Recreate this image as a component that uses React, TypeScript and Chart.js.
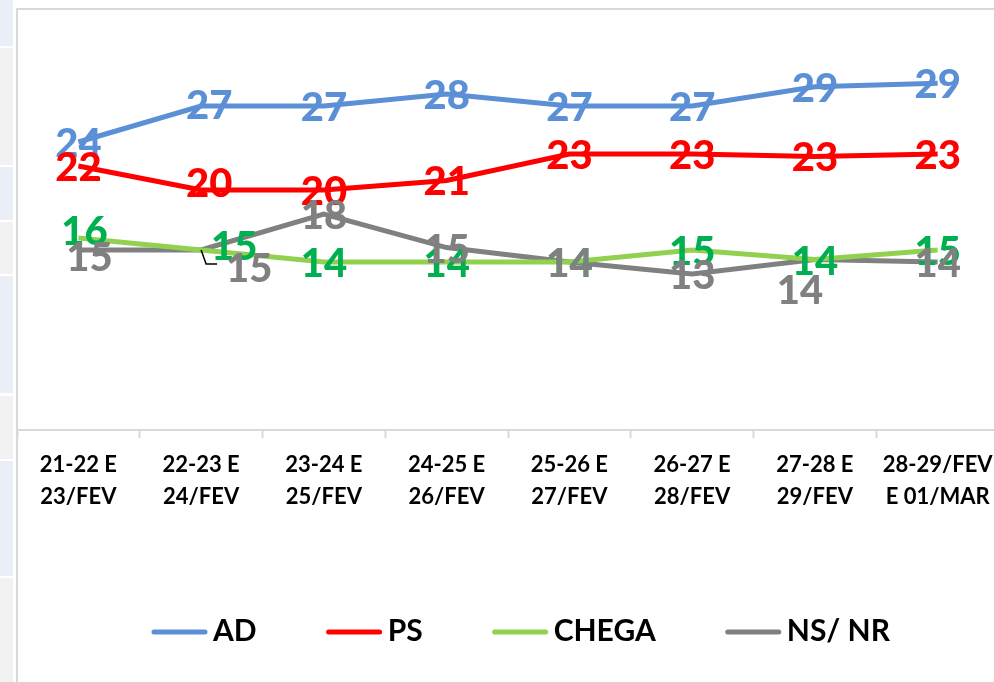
import React, { useEffect, useRef } from 'react';
import { Chart, registerables } from 'chart.js';

Chart.register(...registerables);

// ---- data ----
const categories: string[][] = [
  ['21-22 E', '23/FEV'],
  ['22-23 E', '24/FEV'],
  ['23-24 E', '25/FEV'],
  ['24-25 E', '26/FEV'],
  ['25-26 E', '27/FEV'],
  ['26-27 E', '28/FEV'],
  ['27-28 E', '29/FEV'],
  ['28-29/FEV', 'E 01/MAR'],
];
const seriesNames = ['AD', 'PS', 'CHEGA', 'NS/ NR'];
const adValues = [24, 27, 27, 28, 27, 27, 28.6, 28.9];
const psValues = [22, 20, 20, 20.8, 23, 23, 22.8, 23];
const chegaValues = [16, 15, 14, 14, 14, 15, 14.2, 15];
const nsValues = [15, 15, 18, 15.2, 14, 13, 14.2, 14];

// ---- styles ----
const lineColors = ['#5B8FD6', '#FF0000', '#92D050', '#808080'];
const labelColors = ['#5B8FD6', '#FF0000', '#00B050', '#808080'];
const FONT = 'Lato, "Open Sans", sans-serif';

// manual label displacement [dx, dy] per series / point (px)
const labelOffsets: Record<string, [number, number]> = {
  '0-1': [8, -2],
  '1-1': [8, -8],
  '2-0': [6, -8],
  '2-1': [33, -5],
  '3-0': [11, 6],
  '3-1': [48, 17],
  '3-6': [-15, 29],
};
// leader lines: relative polyline from point
const leaders: Record<string, [number, number][]> = {
  '3-1': [[0, 0], [5, 14], [16, 14]],
};

const valueLabelPlugin = {
  id: 'valueLabels',
  afterDatasetsDraw(chart: any) {
    const ctx = chart.ctx;
    ctx.save();
    chart.data.datasets.forEach((ds: any, di: number) => {
      const meta = chart.getDatasetMeta(di);
      meta.data.forEach((pt: any, i: number) => {
        const lead = leaders[`${di}-${i}`];
        if (lead) {
          ctx.beginPath();
          ctx.strokeStyle = '#000';
          ctx.lineWidth = 1.5;
          lead.forEach((p, k) => {
            if (k === 0) ctx.moveTo(pt.x + p[0], pt.y + p[1]);
            else ctx.lineTo(pt.x + p[0], pt.y + p[1]);
          });
          ctx.stroke();
        }
      });
    });
    chart.data.datasets.forEach((ds: any, di: number) => {
      const meta = chart.getDatasetMeta(di);
      ctx.fillStyle = labelColors[di];
      ctx.font = `900 40px ${FONT}`;
      ctx.textAlign = 'center';
      ctx.textBaseline = 'middle';
      meta.data.forEach((pt: any, i: number) => {
        const off = labelOffsets[`${di}-${i}`] || [0, 0];
        ctx.fillText(String(Math.round(ds.data[i])), pt.x + off[0], pt.y + off[1] + 2);
      });
    });
    ctx.restore();
  },
};

const legendPlugin = {
  id: 'customLegend',
  afterDraw(chart: any) {
    const ctx = chart.ctx;
    const area = chart.chartArea;
    ctx.save();
    ctx.font = `bold 30px ${FONT}`;
    const sample = 55;
    const gap = 6;
    const itemGap = 70;
    const items = chart.data.datasets.map((ds: any, i: number) => ({
      text: ds.label,
      color: lineColors[i],
      w: sample + gap + ctx.measureText(ds.label).width,
    }));
    const total = items.reduce((s: number, it: any) => s + it.w, 0) + itemGap * (items.length - 1);
    let x = (area.left + area.right) / 2 + 13 - total / 2;
    const y = 621;
    items.forEach((it: any) => {
      ctx.beginPath();
      ctx.strokeStyle = it.color;
      ctx.lineWidth = 5;
      ctx.lineCap = 'round';
      ctx.moveTo(x + 2, y + 1);
      ctx.lineTo(x + sample - 2, y + 1);
      ctx.stroke();
      ctx.fillStyle = '#000';
      ctx.textAlign = 'left';
      ctx.textBaseline = 'middle';
      ctx.fillText(it.text, x + sample + gap, y);
      x += it.w + itemGap;
    });
    ctx.restore();
  },
};

function ChartCanvas() {
  const ref = useRef<HTMLCanvasElement | null>(null);
  useEffect(() => {
    if (!ref.current) return;
    const all = [adValues, psValues, chegaValues, nsValues];
    const chart = new Chart(ref.current, {
      type: 'line',
      data: {
        labels: categories,
        datasets: all.map((vals, i) => ({
          label: seriesNames[i],
          data: vals,
          borderColor: lineColors[i],
          backgroundColor: lineColors[i],
          borderWidth: 5,
          pointRadius: 0,
          pointHoverRadius: 0,
          tension: 0,
          fill: false,
        })),
      },
      options: {
        animation: false,
        responsive: false,
        maintainAspectRatio: false,
        events: [],
        layout: { padding: { left: 0, right: 28, top: 0, bottom: 132 } },
        plugins: {
          legend: { display: false },
          tooltip: { enabled: false },
          title: { display: false },
        },
        scales: {
          x: {
            offset: true,
            grid: {
              offset: true,
              drawOnChartArea: false,
              drawTicks: true,
              tickLength: 8,
              tickWidth: 2,
              color: '#d9d9d9',
            },
            border: { display: true, color: '#d9d9d9', width: 2 },
            ticks: {
              color: '#000',
              font: { family: FONT, size: 22, weight: 'bold', lineHeight: '32px' } as any,
              padding: 11,
              maxRotation: 0,
              autoSkip: false,
            },
            afterFit: (scale: any) => {
              scale.height = 120;
            },
          },
          y: {
            display: false,
            min: 0,
            max: 35,
          },
        },
      },
      plugins: [valueLabelPlugin, legendPlugin],
    });
    return () => chart.destroy();
  }, []);
  return <canvas ref={ref} width={1010} height={672} style={{ display: 'block', width: 1010, height: 672 }} />;
}

const stripBlocks: [number, number, string][] = [
  [0, 46, '#e9eef7'],
  [48, 165, '#f2f2f2'],
  [167, 220, '#e9eef7'],
  [222, 274, '#f2f2f2'],
  [276, 393, '#e9eef7'],
  [396, 459, '#f2f2f2'],
  [461, 576, '#e9eef7'],
  [578, 682, '#f2f2f2'],
];

export default function App() {
  return (
    <div
      style={{
        position: 'fixed',
        left: 0,
        top: 0,
        width: 994,
        height: 682,
        overflow: 'hidden',
        background: '#fff',
      }}
    >
      {stripBlocks.map(([a, b, c], i) => (
        <div key={i} style={{ position: 'absolute', left: 0, top: a, width: 13, height: b - a, background: c }} />
      ))}
      <div style={{ position: 'absolute', left: 17, top: 10 }}>
        <ChartCanvas />
      </div>
      <div
        style={{
          position: 'absolute',
          left: 16,
          top: 8,
          width: 1200,
          height: 1000,
          borderLeft: '2px solid #d9d9d9',
          borderTop: '2px solid #d9d9d9',
          pointerEvents: 'none',
        }}
      />
    </div>
  );
}
